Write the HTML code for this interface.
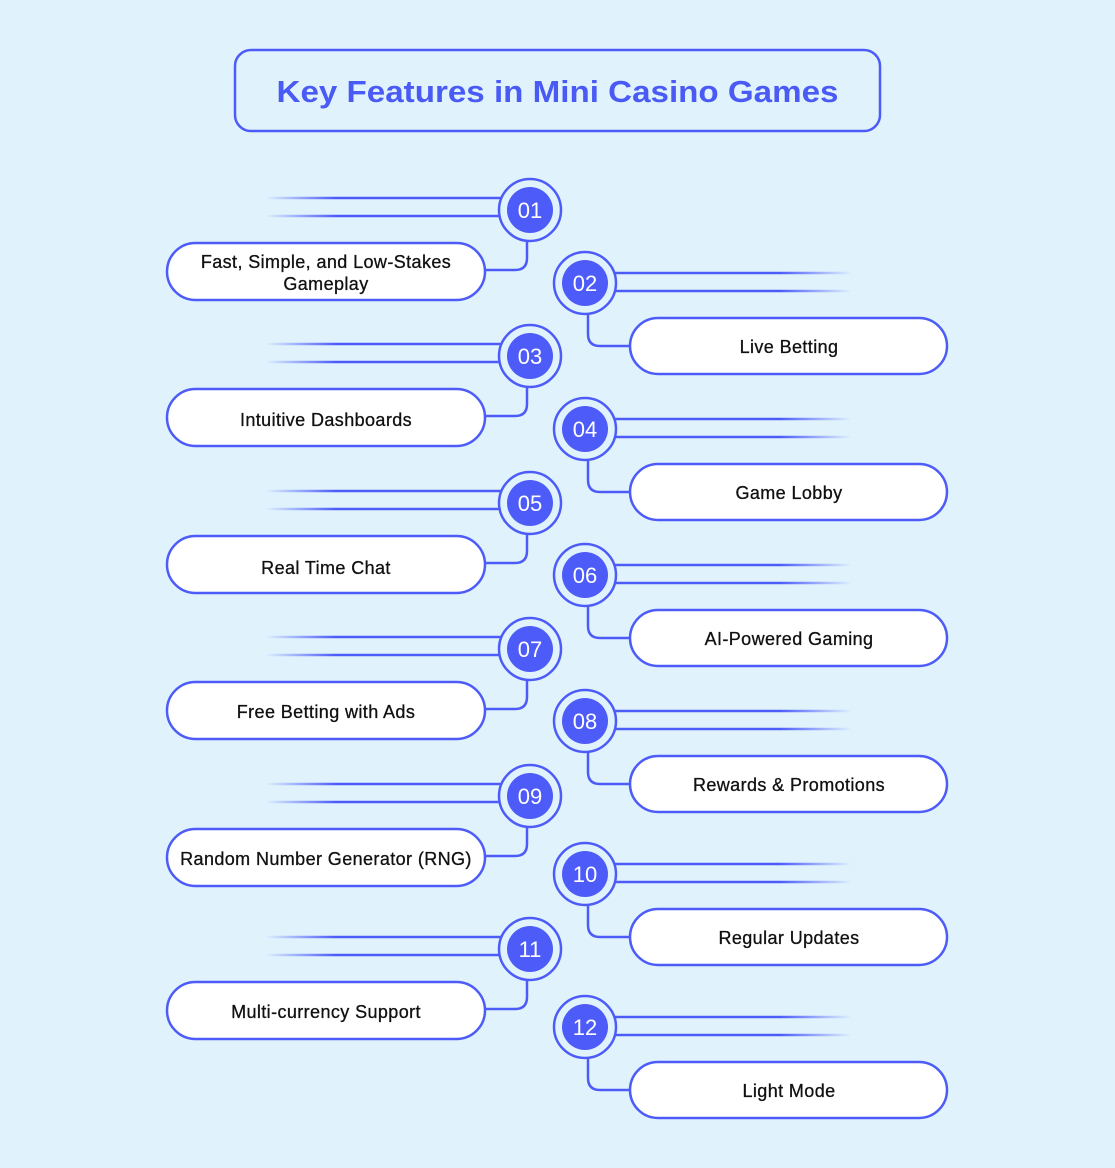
<!DOCTYPE html>
<html><head><meta charset="utf-8"><style>
html,body{margin:0;padding:0;background:#e0f3fd;}
svg{display:block}
text{font-family:"Liberation Sans",sans-serif;}
.lb{letter-spacing:0.4px;stroke:#111;stroke-width:0.3px;}
</style></head><body>
<svg width="1115" height="1168" viewBox="0 0 1115 1168" xmlns="http://www.w3.org/2000/svg">
<defs>
<linearGradient id="gl" x1="265" x2="500" y1="0" y2="0" gradientUnits="userSpaceOnUse">
<stop offset="0" stop-color="#4d5cf8" stop-opacity="0"/><stop offset="0.3" stop-color="#4d5cf8" stop-opacity="1"/><stop offset="1" stop-color="#4d5cf8"/></linearGradient>
<linearGradient id="gr" x1="612" x2="852" y1="0" y2="0" gradientUnits="userSpaceOnUse">
<stop offset="0" stop-color="#4d5cf8"/><stop offset="0.7" stop-color="#4d5cf8" stop-opacity="1"/><stop offset="1" stop-color="#4d5cf8" stop-opacity="0"/></linearGradient>
<g id="L">
<line x1="265" y1="-12" x2="503" y2="-12" stroke="url(#gl)" stroke-width="2.5"/>
<line x1="265" y1="6" x2="503" y2="6" stroke="url(#gl)" stroke-width="2.5"/>
<path d="M527 31 V48 Q527 60 515 60 H485" fill="none" stroke="#4d5cf8" stroke-width="2.5"/>
<circle cx="530" cy="0" r="31" fill="#e0f3fd" stroke="#4d5cf8" stroke-width="2.5"/>
<circle cx="530" cy="0" r="23" fill="#4d5cf8"/>
<rect x="167" y="33" width="318" height="57" rx="28.5" fill="#fff" stroke="#4d5cf8" stroke-width="2.5"/>
</g>
<g id="R">
<line x1="610" y1="-10" x2="852" y2="-10" stroke="url(#gr)" stroke-width="2.5"/>
<line x1="610" y1="8" x2="852" y2="8" stroke="url(#gr)" stroke-width="2.5"/>
<path d="M588 31 V51 Q588 63 600 63 H630" fill="none" stroke="#4d5cf8" stroke-width="2.5"/>
<circle cx="585" cy="0" r="31" fill="#e0f3fd" stroke="#4d5cf8" stroke-width="2.5"/>
<circle cx="585" cy="0" r="23" fill="#4d5cf8"/>
<rect x="630" y="35" width="317" height="56" rx="28" fill="#fff" stroke="#4d5cf8" stroke-width="2.5"/>
</g>
</defs>
<rect x="235" y="50" width="645" height="81" rx="16" fill="none" stroke="#4d5cf8" stroke-width="2.5"/>
<text x="557.5" y="102" text-anchor="middle" font-size="31" font-weight="bold" fill="#4a5af5" textLength="562" lengthAdjust="spacingAndGlyphs">Key Features in Mini Casino Games</text>

<g font-size="18" fill="#111">
<use href="#L" y="210"/><text x="530" y="218" text-anchor="middle" fill="#fff" font-size="22">01</text>
<text class="lb" x="326" y="268" text-anchor="middle">Fast, Simple, and Low-Stakes</text><text class="lb" x="326" y="290" text-anchor="middle">Gameplay</text>

<use href="#R" y="283"/><text x="585" y="291" text-anchor="middle" fill="#fff" font-size="22">02</text>
<text class="lb" x="789" y="353" text-anchor="middle">Live Betting</text>

<use href="#L" y="356"/><text x="530" y="364" text-anchor="middle" fill="#fff" font-size="22">03</text>
<text class="lb" x="326" y="426" text-anchor="middle">Intuitive Dashboards</text>

<use href="#R" y="429"/><text x="585" y="437" text-anchor="middle" fill="#fff" font-size="22">04</text>
<text class="lb" x="789" y="499" text-anchor="middle">Game Lobby</text>

<use href="#L" y="503"/><text x="530" y="511" text-anchor="middle" fill="#fff" font-size="22">05</text>
<text class="lb" x="326" y="574" text-anchor="middle">Real Time Chat</text>

<use href="#R" y="575"/><text x="585" y="583" text-anchor="middle" fill="#fff" font-size="22">06</text>
<text class="lb" x="789" y="645" text-anchor="middle">AI-Powered Gaming</text>

<use href="#L" y="649"/><text x="530" y="657" text-anchor="middle" fill="#fff" font-size="22">07</text>
<text class="lb" x="326" y="718" text-anchor="middle">Free Betting with Ads</text>

<use href="#R" y="721"/><text x="585" y="729" text-anchor="middle" fill="#fff" font-size="22">08</text>
<text class="lb" x="789" y="791" text-anchor="middle">Rewards &amp; Promotions</text>

<use href="#L" y="796"/><text x="530" y="804" text-anchor="middle" fill="#fff" font-size="22">09</text>
<text class="lb" x="326" y="865" text-anchor="middle">Random Number Generator (RNG)</text>

<use href="#R" y="874"/><text x="585" y="882" text-anchor="middle" fill="#fff" font-size="22">10</text>
<text class="lb" x="789" y="944" text-anchor="middle">Regular Updates</text>

<use href="#L" y="949"/><text x="530" y="957" text-anchor="middle" fill="#fff" font-size="22">11</text>
<text class="lb" x="326" y="1018" text-anchor="middle">Multi-currency Support</text>

<use href="#R" y="1027"/><text x="585" y="1035" text-anchor="middle" fill="#fff" font-size="22">12</text>
<text class="lb" x="789" y="1097" text-anchor="middle">Light Mode</text>
</g>
</svg>
</body></html>
